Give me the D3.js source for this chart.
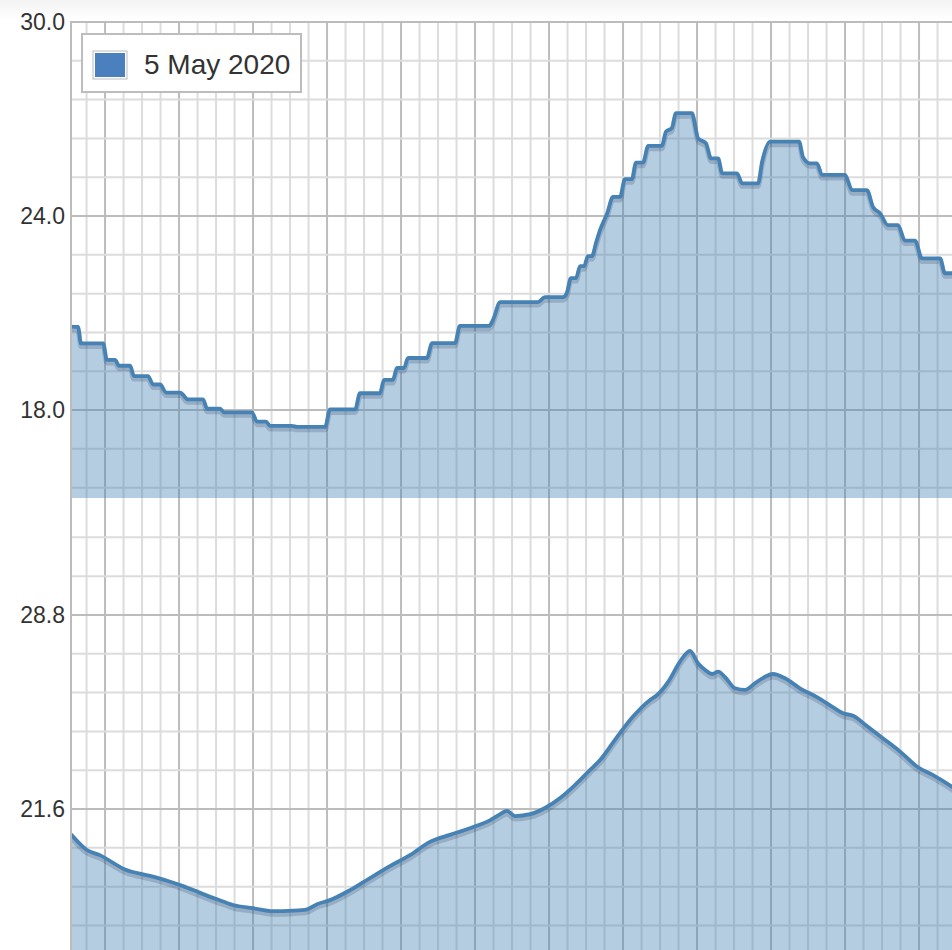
<!DOCTYPE html>
<html>
<head>
<meta charset="utf-8">
<script src="https://cdn.jsdelivr.net/npm/d3@7"></script>
<style>
  html, body { margin: 0; padding: 0; background: #fff; overflow: hidden; }
  svg { display: block; font-family: "Liberation Sans", Arial, Helvetica, sans-serif; }
</style>
</head>
<body>
<svg id="chart" width="952" height="950"></svg>
<script>
// ---- DATA (hours relative to 5 May 2020 00:00, temperature °C) ----
const legendLabel = "5 May 2020";

const rawHours = [-0.92,-0.73,-0.65,-0.05,0.05,0.27,0.38,0.68,0.78,1.16,1.30,1.49,1.65,2.03,2.24,2.65,2.76,3.11,3.22,3.97,
  4.11,4.35,4.46,5.05,5.19,5.95,6.08,6.76,6.89,7.43,7.54,7.78,7.89,8.08,8.19,8.70,8.84,9.46,9.59,10.38,
  10.49,10.68,11.70,11.89,12.38,12.49,12.59,12.73,12.84,12.95,13.05,13.16,13.27,13.38,13.57,13.73,13.92,14.05,14.24,14.35,
  14.54,14.68,15.05,15.16,15.32,15.43,15.86,16.03,16.24,16.38,16.57,16.68,17.08,17.22,17.65,17.76,17.97,18.76,18.86,19.05,
  19.24,19.38,20.00,20.19,20.59,20.76,20.95,21.16,21.43,21.62,21.89,22.08,22.57,22.70,23.08];
const rawTemps = [20.58,20.57,20.06,20.06,19.55,19.55,19.37,19.37,19.05,19.05,18.79,18.79,18.54,18.54,18.33,18.33,18.04,18.04,17.93,17.93,
  17.64,17.64,17.51,17.51,17.48,17.48,18.02,18.02,18.52,18.52,18.93,18.93,19.30,19.30,19.61,19.61,20.07,20.07,20.60,20.60,
  20.80,21.34,21.34,21.49,21.49,21.65,22.08,22.08,22.45,22.45,22.76,22.76,23.17,23.57,24.08,24.59,24.59,25.14,25.14,25.65,
  25.65,26.17,26.17,26.61,26.72,27.18,27.18,26.40,26.25,25.78,25.78,25.32,25.32,25.01,25.01,25.68,26.30,26.30,25.83,25.63,
  25.63,25.27,25.27,24.80,24.80,24.27,24.08,23.72,23.72,23.24,23.24,22.69,22.69,22.23,22.23];

const smoothHours = [-0.92,-0.49,-0.14,0.54,1.22,1.68,2.11,2.57,3.03,3.46,4.00,4.54,5.08,5.46,5.73,6.08,6.62,7.16,7.70,8.24,
  8.78,9.32,9.86,10.41,10.68,10.86,11.08,11.49,11.89,12.30,12.70,13.11,13.38,13.84,14.27,14.73,14.92,15.22,15.54,15.81,
  16.03,16.22,16.41,16.57,16.76,17.03,17.30,17.57,17.84,18.05,18.38,18.78,19.24,19.68,19.95,20.22,20.59,21.03,21.49,21.95,
  22.38,22.89,23.08];
const smoothTemps = [20.66,20.08,19.89,19.36,19.12,18.94,18.74,18.49,18.25,18.04,17.92,17.81,17.83,17.88,18.07,18.22,18.59,19.04,19.48,19.89,
  20.38,20.64,20.89,21.19,21.41,21.53,21.34,21.41,21.64,22.01,22.49,23.05,23.42,24.28,25.03,25.65,25.83,26.32,27.07,27.47,
  27.00,26.76,26.61,26.70,26.49,26.08,26.02,26.27,26.51,26.61,26.45,26.08,25.75,25.37,25.15,25.06,24.68,24.22,23.73,23.17,
  22.86,22.43,22.25];

const topTickValues = [30.0, 24.0, 18.0];
const bottomTickValues = [28.8, 21.6];
const topGridStep = 1.2;
const bottomGridStep = 1.44;

// ---- LAYOUT ----
const W = 952, H = 950;
const left = 71, plotRight = 959;
const topY0 = 22, split = 498, bottomY1 = 950;
const day = new Date(2020, 4, 5);
const toDate = h => new Date(day.getTime() + h * 3600e3);

const svg = d3.select("#chart");
const defs = svg.append("defs");

const grad = defs.append("linearGradient").attr("id", "hdr").attr("x1", 0).attr("y1", 0).attr("x2", 0).attr("y2", 1);
grad.append("stop").attr("offset", "0%").attr("stop-color", "#f3f3f3");
grad.append("stop").attr("offset", "100%").attr("stop-color", "#ffffff");
svg.append("rect").attr("x", 0).attr("y", 0).attr("width", W).attr("height", 20).attr("fill", "url(#hdr)");

const x = d3.scaleTime().domain([toDate(-0.92), toDate(23.08)]).range([left, plotRight]);
const yTop = d3.scaleLinear().domain([15.28, 30]).range([split, topY0]);
const yBot = d3.scaleLinear().domain([16.37, 33.14]).range([bottomY1, split]);

defs.append("clipPath").attr("id", "clipTop").append("rect")
  .attr("x", left).attr("y", topY0).attr("width", W - left).attr("height", split - topY0);
defs.append("clipPath").attr("id", "clipBot").append("rect")
  .attr("x", left).attr("y", split).attr("width", W - left).attr("height", bottomY1 - split);

// ---- GRID ----
const grid = svg.append("g");
const vTimes = d3.timeMinute.every(30).range(x.domain()[0], x.domain()[1]);
grid.selectAll("line.v").data(vTimes).join("line")
  .attr("x1", d => x(d)).attr("x2", d => x(d))
  .attr("y1", topY0).attr("y2", H)
  .attr("stroke", d => (d.getMinutes() === 0 && d.getHours() % 2 === 0) ? "#bcbcbc" : "#dcdcdc")
  .attr("stroke-width", 2);

const topGrid = d3.range(0, 13).map(i => +(30 - i * topGridStep).toFixed(2)).filter(v => v > yTop.domain()[0]);
grid.selectAll("line.ht").data(topGrid).join("line")
  .attr("x1", left).attr("x2", W)
  .attr("y1", d => yTop(d)).attr("y2", d => yTop(d))
  .attr("stroke", (d, i) => i % 5 === 0 ? "#bcbcbc" : "#dcdcdc")
  .attr("stroke-width", 2);

const botGrid = d3.range(1, 12).map(i => +(33.12 - i * bottomGridStep).toFixed(2)).filter(v => v > yBot.domain()[0]);
grid.selectAll("line.hb").data(botGrid).join("line")
  .attr("x1", left).attr("x2", W)
  .attr("y1", d => yBot(d)).attr("y2", d => yBot(d))
  .attr("stroke", d => bottomTickValues.some(t => Math.abs(t - d) < 1e-6) ? "#bcbcbc" : "#dcdcdc")
  .attr("stroke-width", 2);

// ---- SERIES ----
const rawData = rawHours.map((h, i) => ({ t: toDate(h), v: rawTemps[i] }));
const smoothData = smoothHours.map((h, i) => ({ t: toDate(h), v: smoothTemps[i] }));

function drawSeries(data, y, clipId, curve) {
  const g = svg.append("g").attr("clip-path", `url(#${clipId})`);
  const area = d3.area().x(d => x(d.t)).y0(y.range()[0]).y1(d => y(d.v)).curve(curve);
  const line = d3.line().x(d => x(d.t)).y(d => y(d.v)).curve(curve);
  g.append("path").attr("d", area(data)).attr("fill", "steelblue").attr("fill-opacity", 0.4);
  g.append("path").attr("d", line(data)).attr("fill", "none")
    .attr("stroke", "rgba(40,60,90,0.22)").attr("stroke-width", 5).attr("transform", "translate(0,3)");
  g.append("path").attr("d", line(data)).attr("fill", "none")
    .attr("stroke", "#4682b4").attr("stroke-width", 3.8).attr("stroke-linejoin", "round");
}
drawSeries(rawData, yTop, "clipTop", d3.curveMonotoneX);
drawSeries(smoothData, yBot, "clipBot", d3.curveMonotoneX);

// ---- AXES ----
svg.append("line").attr("x1", left).attr("x2", left).attr("y1", topY0 - 1).attr("y2", H)
  .attr("stroke", "#bcbcbc").attr("stroke-width", 2);
svg.append("line").attr("x1", left).attr("x2", W).attr("y1", topY0).attr("y2", topY0)
  .attr("stroke", "#bcbcbc").attr("stroke-width", 2);

const axTop = svg.append("g").attr("transform", `translate(${left},0)`)
  .call(d3.axisLeft(yTop).tickValues(topTickValues).tickFormat(d3.format(".1f")).tickSize(0).tickPadding(6));
const axBot = svg.append("g").attr("transform", `translate(${left},0)`)
  .call(d3.axisLeft(yBot).tickValues(bottomTickValues).tickFormat(d3.format(".1f")).tickSize(0).tickPadding(6));
[axTop, axBot].forEach(a => {
  a.select(".domain").remove();
  a.selectAll("text").attr("font-size", 23).attr("fill", "#333")
    .attr("font-family", "'Liberation Sans', Arial, Helvetica, sans-serif");
});

// ---- LEGEND ----
const lg = svg.append("g");
lg.append("rect").attr("x", 82).attr("y", 34).attr("width", 219).attr("height", 58)
  .attr("fill", "#fff").attr("stroke", "#bdbdbd").attr("stroke-width", 2);
lg.append("rect").attr("x", 93).attr("y", 51).attr("width", 34).attr("height", 28)
  .attr("fill", "#fff").attr("stroke", "#bdbdbd").attr("stroke-width", 1);
lg.append("rect").attr("x", 95).attr("y", 53).attr("width", 30).attr("height", 24)
  .attr("fill", "#4a80bd");
lg.append("text").attr("x", 144).attr("y", 74).attr("font-size", 28).attr("fill", "#333")
  .text(legendLabel);
</script>
</body>
</html>
